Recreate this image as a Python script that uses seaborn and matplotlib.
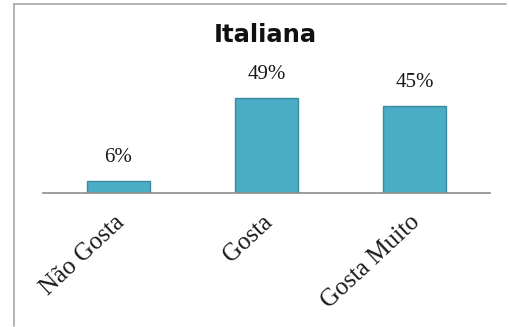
import matplotlib
matplotlib.use("Agg")
import matplotlib.pyplot as plt
import matplotlib.transforms as mtransforms
from matplotlib.lines import Line2D
import seaborn as sns
import pandas as pd

categories = ["Não Gosta", "Gosta", "Gosta Muito"]
values = [6, 49, 45]
value_labels = ["6%", "49%", "45%"]
title = "Italiana"

sns.set_style("white")
plt.rcParams["font.family"] = ["DejaVu Sans"]

df = pd.DataFrame({"categoria": categories, "pct": values})

fig = plt.figure(figsize=(5.1, 3.27), dpi=100)
W, H = 510, 327

# gray frame around the chart area (top and left edges)
fig.add_artist(Line2D([14 / W, 506 / W], [1 - 4 / H, 1 - 4 / H], color="#a6a6a6", lw=1.2,
                      transform=fig.transFigure))
fig.add_artist(Line2D([14 / W, 14 / W], [1 - 4 / H, 1 - 326 / H], color="#a6a6a6", lw=1.2,
                      transform=fig.transFigure))

ax = fig.add_axes([43 / W, 1 - 193 / H, (490 - 43) / W, (193 - 60) / H])
sns.barplot(data=df, x="categoria", y="pct", ax=ax, color="#4bacc6",
            width=0.42, edgecolor="#3a8aa0", linewidth=1.0, saturation=1)

ax.set_xlim(-0.51, 2.51)
ax.set_ylim(0, 133 / 1.94)

for i, (v, lab) in enumerate(zip(values, value_labels)):
    ax.annotate(lab, (i, v), xytext=(0, 10), textcoords="offset points",
                ha="center", va="bottom", family="Liberation Serif",
                fontsize=15, color="#1a1a1a")

ax.set_xlabel("")
ax.set_ylabel("")
ax.set_yticks([])
for s in ["top", "right", "left"]:
    ax.spines[s].set_visible(False)
ax.spines["bottom"].set_color("#8c8c8c")
ax.spines["bottom"].set_linewidth(1.2)

ax.tick_params(axis="x", length=0, pad=13)
ax.set_xticks(range(len(categories)))
ax.set_xticklabels(categories, rotation=43, ha="right", rotation_mode="anchor",
                   family="Liberation Serif", fontsize=18, color="#1a1a1a")
shift = mtransforms.ScaledTranslation(-5 / 100, 0, fig.dpi_scale_trans)
for lbl in ax.get_xticklabels():
    lbl.set_transform(lbl.get_transform() + shift)

fig.text(265 / W, 1 - 35 / H, title, ha="center", va="center",
         fontsize=17.5, fontweight="bold", color="#111111")

fig.savefig("out.png", dpi=100)
